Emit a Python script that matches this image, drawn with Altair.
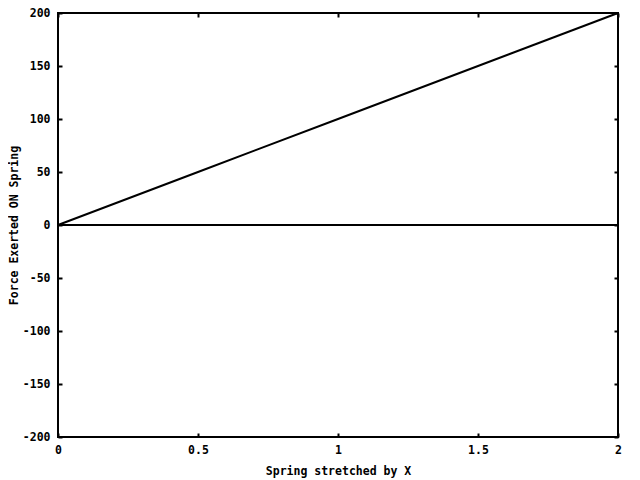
import altair as alt
import pandas as pd

# Data
stretch_x = [0, 0.5, 1, 1.5, 2]
force_y = [0, 50, 100, 150, 200]
zero_x = [0, 2]
zero_y = [0, 0]
x_ticks = [0, 0.5, 1, 1.5, 2]
y_ticks = [-200, -150, -100, -50, 0, 50, 100, 150, 200]

FONT = "DejaVu Sans Mono"
FS = 11.5

line_df = pd.DataFrame({"x": stretch_x, "y": force_y})
zero_df = pd.DataFrame({"x": zero_x, "y": zero_y})

xs = alt.Scale(domain=[0, 2], nice=False, zero=False)
ys = alt.Scale(domain=[-200, 200], nice=False, zero=False)

common = dict(
    domain=False, grid=False, ticks=True, tickSize=4, tickWidth=2,
    tickColor="black", offset=-4, labelFont=FONT, labelFontSize=FS,
    labelFontWeight="bold", labelColor="black", labelFlush=False,
    labelOverlap=False, labelExpr="toString(datum.value)",
    titleFont=FONT, titleFontSize=FS, titleFontWeight="bold", titleColor="black",
)
no_title = {k: v for k, v in common.items() if not k.startswith("title")}

x_bottom = alt.Axis(orient="bottom", values=x_ticks, labelPadding=7,
                    title="Spring stretched by X", titlePadding=10, **common)
y_left = alt.Axis(orient="left", values=y_ticks, labelPadding=8,
                  title="Force Exerted ON Spring", titlePadding=3, **common)
x_top = alt.Axis(orient="top", values=x_ticks, labels=False, title=None, **no_title)
y_right = alt.Axis(orient="right", values=y_ticks, labels=False, title=None, **no_title)

line = alt.Chart(line_df).mark_line(color="black", strokeWidth=2).encode(
    x=alt.X("x:Q", scale=xs, axis=x_bottom),
    y=alt.Y("y:Q", scale=ys, axis=y_left),
)

zero = alt.Chart(zero_df).mark_line(color="black", strokeWidth=2).encode(
    x=alt.X("x:Q", scale=xs, axis=x_top),
    y=alt.Y("y:Q", scale=ys, axis=y_right),
)

chart = alt.layer(line, zero).resolve_axis(
    x="independent", y="independent"
).properties(
    width=560, height=424,
    autosize=alt.AutoSizeParams(type="none"),
    padding={"left": 50, "top": 5, "right": 14, "bottom": 45},
).configure(
    background="white",
    view=alt.ViewConfig(stroke="black", strokeWidth=2),
)

chart.save("out.html", embed_options={"renderer": "svg", "actions": False})
